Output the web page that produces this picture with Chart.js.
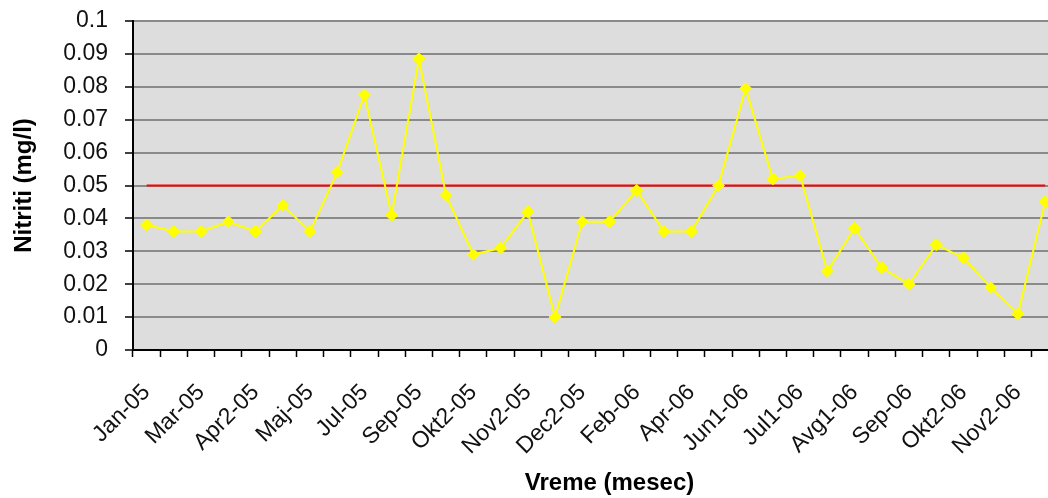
<!DOCTYPE html>
<html>
<head>
<meta charset="utf-8">
<title>Nitriti</title>
<script src="https://cdn.jsdelivr.net/npm/chart.js@4.4.1/dist/chart.umd.min.js"></script>
<style>
  html, body { margin: 0; padding: 0; background: #fff; overflow: hidden; }
  #wrap { position: relative; width: 1093px; height: 498px; }
</style>
</head>
<body>
<div id="wrap"><canvas id="myChart"></canvas></div>
<script>
// mesecni uzorci, 2005-2006
const meseci = [
  'Jan-05', 'Feb-05', 'Mar-05', 'Apr1-05', 'Apr2-05', 'Apr3-05', 'Maj-05', 'Jun-05',
  'Jul-05', 'Avg-05', 'Sep-05', 'Okt1-05', 'Okt2-05', 'Nov1-05', 'Nov2-05', 'Dec1-05',
  'Dec2-05', 'Jan-06', 'Feb-06', 'Mar-06', 'Apr-06', 'Maj-06', 'Jun1-06', 'Jun2-06',
  'Jul1-06', 'Jul2-06', 'Avg1-06', 'Avg2-06', 'Sep-06', 'Okt1-06', 'Okt2-06', 'Nov1-06',
  'Nov2-06', 'Dec1-06', 'Dec2-06'
];

// izmerene vrednosti nitrita (mg/l), poslednji mesec jos nije izmeren
const nitriti = [
  0.038, 0.036, 0.036, 0.039, 0.036, 0.044, 0.036, 0.054,
  0.0775, 0.041, 0.0885, 0.047, 0.029, 0.031, 0.042, 0.010,
  0.039, 0.039, 0.0485, 0.036, 0.036, 0.050, 0.0795, 0.052,
  0.053, 0.024, 0.037, 0.025, 0.020, 0.032, 0.028, 0.019,
  0.011, 0.045
];

// MDK granica
const granica = 0.05;
const granicaLinija = nitriti.map(function(){ return granica; });

const yTicks = [0, 0.01, 0.02, 0.03, 0.04, 0.05, 0.06, 0.07, 0.08, 0.09, 0.1];

// siva pozadina oblasti grafika
const plotBg = {
  id: 'plotBg',
  beforeDraw: function(chart){
    const a = chart.chartArea;
    const ctx = chart.ctx;
    ctx.save();
    ctx.fillStyle = '#dddddd';
    ctx.fillRect(a.left, a.top, a.right - a.left, a.bottom - a.top);
    ctx.restore();
  }
};

const data = {
  labels: meseci,
  datasets: [{
    label: 'Nitriti',
    data: nitriti,
    borderColor: '#ffff00',
    backgroundColor: '#ffff00',
    borderWidth: 2,
    pointStyle: 'rectRot',
    pointRadius: 6,
    pointBorderWidth: 1,
    pointBorderColor: '#ffff00',
    pointBackgroundColor: '#ffff00',
    tension: 0
  }, {
    label: 'MDK',
    data: granicaLinija,
    borderColor: '#ff0000',
    borderWidth: 2,
    pointRadius: 0,
    tension: 0
  }]
};

const config = {
  type: 'line',
  data: data,
  plugins: [plotBg],
  options: {
    responsive: true,
    maintainAspectRatio: false,
    animation: false,
    layout: { padding: { top: 21, right: 4, left: 0, bottom: 0 } },
    plugins: {
      legend: { display: false },
      tooltip: { enabled: false }
    },
    scales: {
      x: {
        offset: true,
        grid: {
          offset: true,
          drawOnChartArea: false,
          tickLength: 7,
          tickColor: '#000',
          tickWidth: 1.5
        },
        border: { color: '#000', width: 2 },
        ticks: {
          autoSkip: false,
          maxRotation: 45,
          minRotation: 45,
          padding: 22,
          color: '#111',
          font: { family: 'Liberation Sans, Arial, sans-serif', size: 23 },
          callback: function(v, i){
            return (i % 2 === 0 && i < nitriti.length) ? meseci[i] : '';
          }
        },
        title: {
          display: true,
          text: 'Vreme (mesec)',
          color: '#000',
          font: { family: 'Liberation Sans, Arial, sans-serif', size: 24, weight: 'bold' },
          padding: { top: 0, bottom: 0 }
        },
        afterFit: function(scale){
          scale.height = 148;
          scale.paddingRight = 0;
        }
      },
      y: {
        min: 0,
        max: 0.1,
        afterBuildTicks: function(scale){
          scale.ticks = yTicks.map(function(v){ return { value: v }; });
        },
        grid: {
          color: '#8a8a8a',
          lineWidth: 2,
          tickLength: 8,
          tickColor: '#000',
          tickWidth: 1.5
        },
        border: { color: '#000', width: 2 },
        ticks: {
          padding: 17,
          color: '#111',
          font: { family: 'Liberation Sans, Arial, sans-serif', size: 23 },
          callback: function(v){ return String(Math.round(v * 100) / 100); }
        },
        title: {
          display: true,
          text: 'Nitriti (mg/l)',
          color: '#000',
          font: { family: 'Liberation Sans, Arial, sans-serif', size: 24, weight: 'bold' },
          padding: { top: 10, bottom: 0 }
        },
        afterFit: function(scale){
          scale.width = 133;
          scale.paddingTop = 0;
        }
      }
    }
  }
};

const myChart = new Chart(document.getElementById('myChart'), config);
</script>
</body>
</html>
